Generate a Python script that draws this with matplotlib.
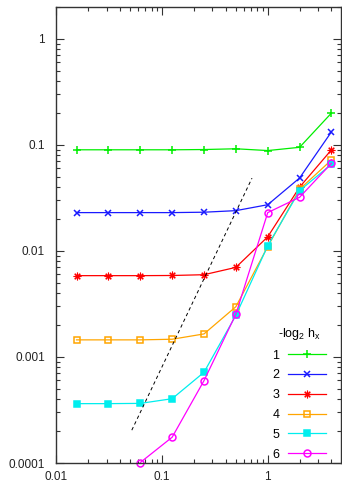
import numpy as np
import matplotlib
matplotlib.use('Agg')
import matplotlib.pyplot as plt
from matplotlib.ticker import LogLocator, FuncFormatter, NullFormatter

# Data (log-log convergence plot)
x_all = [1/64, 1/32, 1/16, 1/8, 1/4, 1/2, 1, 2, 4]

y1 = [0.090, 0.090, 0.090, 0.090, 0.0905, 0.092, 0.0885, 0.095, 0.20]
y2 = [0.023, 0.023, 0.023, 0.023, 0.0232, 0.024, 0.0273, 0.0488, 0.133]
y3 = [0.00585, 0.00585, 0.00585, 0.00587, 0.00597, 0.0070, 0.0136, 0.040, 0.090]
y4 = [0.00145, 0.00145, 0.00145, 0.00147, 0.00165, 0.00298, 0.0110, 0.0382, 0.0722]
y5 = [0.000363, 0.000363, 0.000365, 0.000404, 0.000717, 0.00247, 0.0112, 0.0371, 0.0658]
x6 = [1/16, 1/8, 1/4, 1/2, 1, 2, 4]
y6 = [0.000101, 0.000175, 0.000598, 0.00253, 0.0230, 0.0321, 0.0672]

# reference slope line (dashed)
x_ref = [0.052, 0.71]
y_ref = [0.000204, 0.0486]

labels = ['1', '2', '3', '4', '5', '6']
colors = ['#00ee00', '#1a1aff', '#ff0000', '#ffa500', '#00eeee', '#ff00ff']

plt.rcParams['font.family'] = 'Liberation Sans'
plt.rcParams['mathtext.fontset'] = 'custom'
plt.rcParams['mathtext.rm'] = 'Liberation Sans'
plt.rcParams['mathtext.it'] = 'Liberation Sans'
plt.rcParams['mathtext.default'] = 'regular'
plt.rcParams['font.size'] = 8.5


def main():
    fig = plt.figure(figsize=(3.42, 4.82), dpi=100)
    ax = fig.add_axes([56/342, 1 - 463/482, (341 - 56)/342, (463 - 7)/482])

    series = [(x_all, y1, '+', 'none', 5.5, 1.1), (x_all, y2, 'x', 'none', 4.5, 1.1),
              (x_all, y3, (8, 2, 0), 'none', 5.5, 0.8), (x_all, y4, 's', 'none', 4.3, 1.1),
              (x_all, y5, 's', 'full', 4.3, 1.1), (x6, y6, 'o', 'none', 5, 1.1)]
    for (xs, ys, m, fill, ms, mw), lab, c in zip(series, labels, colors):
        mfc = c if fill == 'full' else 'none'
        ax.plot(xs, ys, color=c, lw=0.9, marker=m, ms=ms, mfc=mfc, mec=c,
                mew=mw, label=lab, clip_on=False)

    ax.plot(x_ref, y_ref, color='black', lw=0.7, ls=(0, (3.5, 3)))

    ax.set_xscale('log')
    ax.set_yscale('log')
    ax.set_xlim(0.01, 4.92)
    ax.set_ylim(0.0001, 2)

    fmt = FuncFormatter(lambda v, p: '%g' % v)
    ax.xaxis.set_major_locator(LogLocator(base=10, numticks=10))
    ax.yaxis.set_major_locator(LogLocator(base=10, numticks=10))
    ax.xaxis.set_minor_locator(LogLocator(base=10, subs=np.arange(2, 10), numticks=20))
    ax.yaxis.set_minor_locator(LogLocator(base=10, subs=np.arange(2, 10), numticks=20))
    ax.xaxis.set_major_formatter(fmt)
    ax.yaxis.set_major_formatter(fmt)
    ax.xaxis.set_minor_formatter(NullFormatter())
    ax.yaxis.set_minor_formatter(NullFormatter())

    ax.tick_params(which='both', direction='in', top=True, right=True,
                   color='#333333', width=0.8, colors='#222222')
    ax.tick_params(which='major', length=6)
    ax.tick_params(which='minor', length=3)
    ax.tick_params(axis='y', which='major', pad=8)
    ax.tick_params(axis='x', which='major', pad=5.5)
    for s in ax.spines.values():
        s.set_linewidth(1.0)
        s.set_color('#333333')

    leg = ax.legend(title=r'-log$_2$ h$_x$', loc='lower right', frameon=False,
                    markerfirst=False, handlelength=3.0, handletextpad=0.7,
                    labelspacing=0.62, borderaxespad=0.0, borderpad=0.2,
                    bbox_to_anchor=(0.955, 0.0), fontsize=9, title_fontsize=9)
    leg._legend_box.align = 'center'

    fig.savefig('out.png', dpi=100)


if __name__ == '__main__':
    main()
